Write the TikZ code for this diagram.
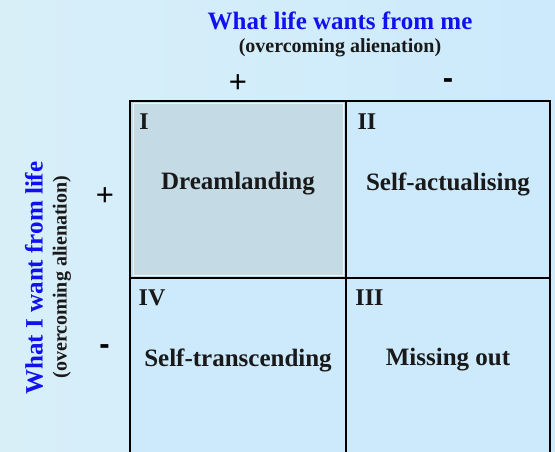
\documentclass[tikz,border=0pt]{standalone}
\usepackage{fontspec}
\setmainfont{Liberation Serif}
\newfontfamily\plusfont{Liberation Sans}
\definecolor{bgA}{HTML}{D8EFF8}
\definecolor{bgB}{HTML}{CCEAFC}
\definecolor{cellI}{HTML}{C4DBE5}
\definecolor{cellO}{HTML}{CDEAFC}
\definecolor{titleblue}{HTML}{1010F0}
\tikzset{
  title/.style={text=titleblue, font=\bfseries\fontsize{25}{28}\selectfont, inner sep=0pt},
  subtitle/.style={text=black!90, font=\bfseries\fontsize{20}{23}\selectfont, inner sep=0pt},
  sign/.style={font=\plusfont\fontsize{31}{33}\selectfont, inner sep=0pt},
  minussign/.style={font=\plusfont\bfseries\fontsize{31}{33}\selectfont, inner sep=0pt},
  numeral/.style={font=\bfseries\fontsize{24}{26}\selectfont, inner sep=0pt, text=black!90},
  celllabel/.style={font=\bfseries\fontsize{25}{28}\selectfont, inner sep=0pt, text=black!90},
  gridline/.style={draw=black, line width=1.6pt}
}
\begin{document}
\begin{tikzpicture}[x=1pt,y=1pt]
\useasboundingbox (0,0) rectangle (555,-452);
\clip (0,0) rectangle (555,-452);
\shade[left color=bgA, right color=bgB] (0,0) rectangle (555,-452);
% cells
\fill[cellI] (130,-101) rectangle (346,-278);
\fill[cellO] (346,-101) rectangle (550,-278);
\fill[cellO] (130,-278) rectangle (346,-470);
\fill[cellO] (346,-278) rectangle (550,-470);
\draw[white!70!cellI, line width=1pt] (133,-104) rectangle (343,-275);
% grid
\draw[gridline] (130,-101) rectangle (550,-470);
\draw[gridline] (346,-101) -- (346,-470);
\draw[gridline] (130,-278) -- (550,-278);
% top titles
\node[title] (t1) at (340,-21) {What life wants from me};
\node[subtitle] (t2) at (340,-48) {(overcoming alienation)};
\node[sign] (p1) at (238,-83.5) {+};
\node[minussign] (m1) at (448,-84) {-};
% left titles
\node[title, rotate=90] (l1) at (34,-278) {What I want from life};
\node[subtitle, rotate=90] (l2) at (62,-277) {(overcoming alienation)};
\node[sign] (p2) at (105,-196.5) {+};
\node[minussign] (m2) at (104.5,-350) {-};
% numerals
\node[numeral] (n1) at (144,-122) {I};
\node[numeral] (n2) at (367,-122) {II};
\node[numeral] (n4) at (152,-298) {IV};
\node[numeral] (n3) at (369.5,-298) {III};
% cell labels
\node[celllabel] (c1) at (238,-184) {Dreamlanding};
\node[celllabel] (c2) at (448,-184) {Self-actualising};
\node[celllabel] (c4) at (238,-360) {Self-transcending};
\node[celllabel] (c3) at (448,-360) {Missing out};
\end{tikzpicture}
\end{document}
